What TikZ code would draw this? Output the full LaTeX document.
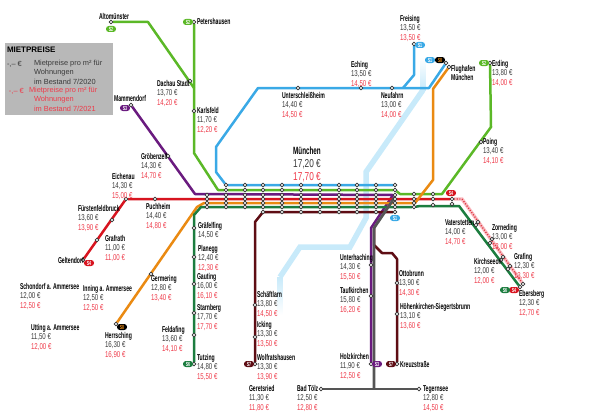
\documentclass[tikz,border=0pt]{standalone}
\usepackage{fontspec}
\setmainfont{Liberation Sans}
\newfontfamily\pricefont[FakeStretch=.72]{Liberation Sans}
\newfontfamily\namefont[FakeStretch=.6]{Liberation Sans}
\usepackage{tikz}
\definecolor{sone}{HTML}{3AA9E6}
\definecolor{stwo}{HTML}{5BB827}
\definecolor{sthree}{HTML}{6A1B7F}
\definecolor{sfour}{HTML}{D7141F}
\definecolor{ssix}{HTML}{1C7D3F}
\definecolor{sseven}{HTML}{5E0D14}
\definecolor{seight}{HTML}{EA8A12}
\definecolor{bob}{HTML}{555555}
\definecolor{ring}{HTML}{C8EAFA}
\definecolor{oldprice}{HTML}{3A3A3A}
\definecolor{newprice}{HTML}{EE3B4A}
\tikzset{
	every node/.style={inner sep=0pt, outer sep=0pt}
}
\tikzset{
	stop/.style={circle, draw=black!80, fill=white, line width=.7pt, minimum size=3.9pt}
}
\tikzset{
	line/.style={line width=2.5pt, line join=round},
	ringline/.style={line width=5.5pt, color=ring, line join=miter}
}
\tikzset{
	badge/.style={rounded corners=2.8pt, minimum width=10pt, minimum height=6pt,
		text=white, font=\namefont\bfseries\fontsize{6}{6}\selectfont}
}
\tikzset{
	stationtext/.style={anchor=north west, align=left,
		font=\pricefont\fontsize{8.5}{9.4}\selectfont, text=oldprice},
	airporttext/.style={anchor=north west, align=left, text=black,
		font=\namefont\bfseries\fontsize{8.5}{7.4}\selectfont},
	legtext/.style={anchor=west, font=\fontsize{7.4}{7.4}\selectfont}
}
\newcommand{\pricelabel}[6]{
	\node [stationtext, yshift=2.6pt] (#1) at (#2,#3) {{\namefont\bfseries\color{black}#4}\\#5~€\\{\color{newprice}#6~€}};
}
\newcommand{\namelabel}[4]{
	\node [stationtext, yshift=2.6pt] (#1) at (#2,#3) {{\namefont\bfseries\color{black}#4}};
}
\pgfdeclarelayer{background}
\pgfsetlayers{background,main}

\begin{document}
\begin{tikzpicture}[x=1pt,y=-1pt]
	\useasboundingbox (0,0) rectangle (609,412);

	% stops outside the centre
	\node [stop] (freising) at (414,44) {};
	\node [stop] (neufahrn) at (392,88) {};
	\node [stop] (eching) at (361,88) {};
	\node [stop] (unterschl) at (298,88) {};
	\node [stop] (flugone) at (446,63) {};
	\node [stop] (flugeight) at (449,67) {};
	\node [stop] (altomuenster) at (111,22) {};
	\node [stop] (dachau) at (190,81) {};
	\node [stop] (petershausen) at (194,22) {};
	\node [stop] (karlsfeld) at (194,111) {};
	\node [stop] (erding) at (490,63) {};
	\node [stop] (poing) at (481,142) {};
	\node [stop] (mammendorf) at (131,105) {};
	\node [stop] (groebenzell) at (168,156) {};
	\node [stop] (unterhaching) at (371,265) {};
	\node [stop] (taufkirchen) at (371,296) {};
	\node [stop] (holzkirchen) at (371,364) {};
	\node [stop] (geltendorf) at (83,260) {};
	\node [stop] (grafrath) at (97,240) {};
	\node [stop] (fuerstenfeld) at (112,220) {};
	\node [stop] (eichenau) at (126,199) {};
	\node [stop] (puchheim) at (155,199) {};
	\node [stop] (herrsching) at (116,324) {};
	\node [stop] (germering) at (151,274) {};
	\node [stop] (graefelfing) at (194,228) {};
	\node [stop] (planegg) at (194,257) {};
	\node [stop] (gauting) at (194,284) {};
	\node [stop] (starnberg) at (194,313) {};
	\node [stop] (feldafing) at (194,335) {};
	\node [stop] (tutzing) at (194,364) {};
	\node [stop] (schaeftlarn) at (255,305) {};
	\node [stop] (icking) at (255,337) {};
	\node [stop] (wolfratshausen) at (255,364) {};
	\node [stop] (ottobrunn) at (397,283) {};
	\node [stop] (hoehenkirchen) at (397,314) {};
	\node [stop] (kreuzstrasse) at (397,364) {};
	\node [stop] (badtoelz) at (321,389) {};
	\node [stop] (tegernsee) at (419,389) {};
	\node [stop] (vaterfour) at (478,222) {};
	\node [stop] (vatersix) at (476,225) {};
	\node [stop] (zornfour) at (492,239) {};
	\node [stop] (zornsix) at (490,243) {};
	\node [stop] (kirchfour) at (503,257) {};
	\node [stop] (kirchsix) at (501,260) {};
	\node [stop] (graffour) at (510,266) {};
	\node [stop] (grafsix) at (508,269) {};
	\node [stop] (eberfour) at (523,284) {};
	\node [stop] (ebersix) at (520,287) {};

	% stops in the centre
	\foreach \y/\r in {195/c,199/d,203/e,207/f}
		\node [stop] (wa\r) at (207,\y) {};
	\foreach \x/\s in {226/b,245/c}
		\foreach \y/\r in {185/a,190/b,195/c,199/d,203/e,207/f}
			\node [stop] (c\s\r) at (\x,\y) {};
	\foreach \x/\s in {263/d,282/e,301/f,320/g,339/h,357/i,376/j,395/k}
		\foreach \y/\r in {185/a,190/b,195/c,199/d,203/e,207/f,212/g}
			\node [stop] (c\s\r) at (\x,\y) {};
	\foreach \y/\r in {194/b,199/d,203/e,207/f}
		\node [stop] (ol\r) at (414,\y) {};
	\foreach \y/\r in {194/b,199/d,205/f}
		\node [stop] (om\r) at (433,\y) {};
	\foreach \y/\r in {199/d,204/f}
		\node [stop] (on\r) at (452,\y) {};

	% bends of the lines
	\coordinate (bluea) at (414,75);
	\coordinate (blueb) at (403,88);
	\coordinate (bluec) at (429,88);
	\coordinate (blued) at (258,88);
	\coordinate (bluee) at (216,147);
	\coordinate (bluef) at (216,172);
	\coordinate (greena) at (148,22);
	\coordinate (greenb) at (194,88);
	\coordinate (greenc) at (194,153);
	\coordinate (greend) at (218,190);
	\coordinate (greene) at (400,194);
	\coordinate (greenf) at (442,194);
	\coordinate (greeng) at (491,127);
	\coordinate (purplea) at (195,194);
	\coordinate (purpleb) at (393,195);
	\coordinate (purplec) at (371,228);
	\coordinate (greya) at (395,197);
	\coordinate (greyb) at (374,228);
	\coordinate (greyc) at (374,389);
	\coordinate (redb) at (462,199);
	\coordinate (orangea) at (197,207);
	\coordinate (orangeb) at (204,203);
	\coordinate (orangec) at (415,203);
	\coordinate (oranged) at (433,180);
	\coordinate (orangee) at (433,89);
	\coordinate (darkgreena) at (194,215);
	\coordinate (darkgreenb) at (201,207);
	\coordinate (darkgreenc) at (420,206);
	\coordinate (darkgreend) at (459,206);
	\coordinate (winea) at (255,222);
	\coordinate (wineb) at (263,212);
	\coordinate (winec) at (374,245);
	\coordinate (wined) at (382,253);
	\coordinate (winee) at (392,253);
	\coordinate (winef) at (397,259);
	\coordinate (ringa) at (423,90);
	\coordinate (ringb) at (366,172);
	\coordinate (ringc) at (366,218);
	\coordinate (ringd) at (350,247);
	\coordinate (ringe) at (300,247);
	\coordinate (ringf) at (280,277);

	\begin{pgfonlayer}{background}
		\shade [top color=white, bottom color=ring] (420.2,57) rectangle (425.8,90);
		\shade [top color=ring, bottom color=white] (277.2,277) rectangle (282.8,315);
		\draw [ringline] (ringa) -- (ringb) -- (ringc) -- (ringd) -- (ringe) -- (ringf);
		\draw [line, sone] (freising) -- (bluea) -- (blueb);
		\draw [line, sone] (flugone) -- (bluec) -- (blued) -- (bluee) -- (bluef) -- (cba) -- (cka);
		\draw [line, stwo] (altomuenster) -- (greena) -- (greenb);
		\draw [line, stwo] (petershausen) -- (greenc) -- (greend) -- (cbb) -- (ckb) -- (greene) -- (greenf) -- (greeng) -- (erding);
		\draw [line, sthree] (mammendorf) -- (purplea) -- (purpleb) -- (purplec) -- (holzkirchen);
		\draw [line, sfour] (geltendorf) -- (eichenau) -- (ond);
		\draw [line, seight] (herrsching) -- (orangea) -- (orangeb) -- (orangec) -- (oranged) -- (orangee) -- (flugeight);
		\draw [line, ssix] (tutzing) -- (darkgreena) -- (darkgreenb) -- (olf) -- (darkgreenc) -- (darkgreend) -- (ebersix);
		\draw [line, sseven] (wolfratshausen) -- (winea) -- (wineb) -- (ckg);
		\draw [line, sseven] (kreuzstrasse) -- (winef) -- (winee) -- (wined) -- (winec) -- (greyb);
		\draw [line, bob] (badtoelz) -- (tegernsee);
		\draw [line, bob, line width=2.8pt] (greya) -- (greyb) -- (greyc);
		\draw [line width=3.4pt, color=newprice!35] (ond) -- (redb) -- (eberfour);
		\draw [line width=1.3pt, sfour!85, dash pattern=on 1.1pt off 1.6pt] (ond) -- (redb) -- (eberfour);
	\end{pgfonlayer}

	% line badges
	\node [badge, fill=stwo] (sa) at (111,29) {S2};
	\node [badge, fill=stwo] (sb) at (188,22) {S2};
	\node [badge, fill=stwo] (sc) at (484,63) {S2};
	\node [badge, fill=sthree] (sd) at (125,108) {S3};
	\node [badge, fill=sthree] (se) at (377,364) {S3};
	\node [badge, fill=sfour] (sf) at (89,263) {S4};
	\node [badge, fill=sfour] (sg) at (451,193) {S4};
	\node [badge, fill=sfour] (sh) at (514,290) {S4};
	\node [badge, fill=ssix] (si) at (505,290) {S6};
	\node [badge, fill=ssix] (sj) at (188,364) {S6};
	\node [badge, fill=sseven] (sk) at (249,364) {S7};
	\node [badge, fill=sseven] (sl) at (391,364) {S7};
	\node [badge, fill=sone] (sm) at (395,218) {S1};
	\node [badge, fill=sone] (sn) at (420,45) {S1};
	\node [badge, fill=sone] (so) at (430,60) {S1};
	\node [badge, fill=black, text=seight] (sp) at (440,60) {S8};
	\node [badge, fill=black, text=seight] (sq) at (122,327) {S8};

	% station names and rents
	\namelabel{tax}{99}{16}{Altomünster}
	\namelabel{tbx}{197}{21}{Petershausen}
	\namelabel{tcx}{114}{98}{Mammendorf}
	\namelabel{tdx}{58}{260}{Geltendorf}
	\namelabel{tex}{400}{364}{Kreuzstraße}
	\node [airporttext, yshift=2.6pt] (tfx) at (451,68) {Flughafen\\München};
	\node [stationtext, yshift=2.6pt] (tgx) at (198,225) {{\namefont\bfseries\color{black}Gräfelfing}\\14,50~€};
	\pricelabel{t1}{157}{83}{Dachau Stadt}{13,70}{14,20}
	\pricelabel{t2}{197}{110}{Karlsfeld}{11,70}{12,20}
	\pricelabel{t3}{282}{95}{Unterschleißheim}{14,40}{14,50}
	\pricelabel{t4}{351}{64}{Eching}{13,50}{14,50}
	\pricelabel{t5}{381}{95}{Neufahrn}{13,00}{14,00}
	\pricelabel{t6}{400}{18}{Freising}{13,50}{13,50}
	\pricelabel{t7}{492}{63}{Erding}{13,80}{14,00}
	\pricelabel{t8}{483}{141}{Poing}{13,40}{14,10}
	\pricelabel{t9}{141}{156}{Gröbenzell}{14,30}{14,70}
	\pricelabel{t10}{112}{176}{Eichenau}{14,30}{15,00}
	\pricelabel{t11}{78}{208}{Fürstenfeldbruck}{13,60}{13,90}
	\pricelabel{t12}{105}{238}{Grafrath}{11,00}{11,00}
	\pricelabel{t13}{146}{206}{Puchheim}{14,40}{14,80}
	\pricelabel{t14}{198}{248}{Planegg}{12,40}{12,30}
	\pricelabel{t15}{197}{276}{Gauting}{16,00}{16,10}
	\pricelabel{t16}{197}{307}{Starnberg}{17,70}{17,70}
	\pricelabel{t17}{162}{329}{Feldafing}{13,60}{14,10}
	\pricelabel{t18}{197}{357}{Tutzing}{14,80}{15,50}
	\pricelabel{t19}{151}{278}{Germering}{12,80}{13,40}
	\pricelabel{t20}{20}{286}{Schondorf a. Ammersee}{12,00}{12,50}
	\pricelabel{t21}{83}{288}{Inning a. Ammersee}{12,50}{12,50}
	\pricelabel{t22}{31}{327}{Utting a. Ammersee}{11,50}{12,00}
	\pricelabel{t23}{105}{335}{Herrsching}{16,30}{16,90}
	\pricelabel{t24}{257}{294}{Schäftlarn}{13,80}{14,50}
	\pricelabel{t25}{257}{324}{Icking}{13,30}{13,50}
	\pricelabel{t26}{257}{357}{Wolfratshausen}{13,30}{13,90}
	\pricelabel{t27}{249}{388}{Geretsried}{11,30}{11,80}
	\pricelabel{t28}{297}{388}{Bad Tölz}{12,50}{12,80}
	\pricelabel{t29}{423}{388}{Tegernsee}{12,80}{14,50}
	\pricelabel{t30}{340}{356}{Holzkirchen}{11,90}{12,50}
	\pricelabel{t31}{340}{290}{Taufkirchen}{15,80}{16,20}
	\pricelabel{t32}{340}{257}{Unterhaching}{14,30}{15,50}
	\pricelabel{t33}{399}{273}{Ottobrunn}{13,90}{14,30}
	\pricelabel{t34}{400}{306}{Höhenkirchen-Siegertsbrunn}{13,10}{13,60}
	\pricelabel{t35}{445}{222}{Vaterstetten}{14,00}{14,70}
	\pricelabel{t36}{492}{227}{Zorneding}{13,00}{13,00}
	\pricelabel{t37}{474}{261}{Kirchseeon}{12,00}{12,00}
	\pricelabel{t38}{514}{256}{Grafing}{12,30}{13,30}
	\pricelabel{t39}{519}{293}{Ebersberg}{12,30}{12,70}
	\node [anchor=north, align=center, text=oldprice, yshift=4pt, font=\pricefont\fontsize{11.5}{12.8}\selectfont] (muenchen) at (307,151) {{\namefont\bfseries\color{black}\fontsize{10.5}{12.8}\selectfont München}\\17,20~€\\{\color{newprice}17,70~€}};

	% legend
	\fill [black!28] (5,43) rectangle (113,115);
	\node [anchor=west, text=black, font=\bfseries\fontsize{8}{8}\selectfont] (legtitle) at (7,50) {MIETPREISE};
	\node [legtext, text=oldprice] (lega) at (7,64) {-,-- €};
	\node [legtext, text=oldprice] (legb) at (34,64) {Mietpreise pro m² für};
	\node [legtext, text=oldprice] (legc) at (34,73) {Wohnungen};
	\node [legtext, text=oldprice] (legd) at (34,82) {im Bestand 7/2020};
	\node [legtext, text=newprice] (lege) at (9,91) {-,-- €};
	\node [legtext, text=newprice] (legf) at (29,91) {Mietpreise pro m² für};
	\node [legtext, text=newprice] (legg) at (34,100) {Wohnungen};
	\node [legtext, text=newprice] (legh) at (34,109) {im Bestand 7/2021};
\end{tikzpicture}
\end{document}
